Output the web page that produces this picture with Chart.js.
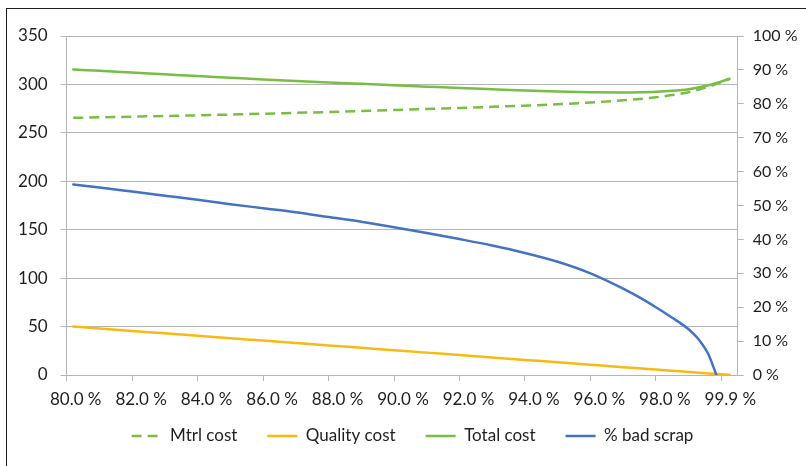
<!DOCTYPE html>
<html>
<head>
<meta charset="utf-8">
<script src="https://cdn.jsdelivr.net/npm/chart.js@4/dist/chart.umd.min.js"></script>
<style>
  html, body { margin: 0; padding: 0; background: #ffffff; overflow: hidden; }
  #wrap { position: relative; width: 806px; height: 466px; overflow: hidden; }
  #frame {
    position: absolute; left: 6px; top: 8px; width: 900px; height: 600px;
    border-left: 1.5px solid #1c1c1c; border-top: 1.5px solid #1c1c1c;
    pointer-events: none; z-index: 2;
  }
  canvas { position: absolute; left: 0; top: 0; }
</style>
</head>
<body>
<div id="wrap">
  <div id="frame"></div>
  <canvas id="c" width="830" height="466"></canvas>
</div>
<script>
// Yield positions along the horizontal axis (percent)
const yieldPos = [80.2, 81, 82, 83, 84, 85, 86, 87, 88, 89, 90, 91, 92, 93, 94, 95, 96, 97, 97.5, 98, 98.5, 99, 99.3, 99.6, 99.85, 100.25];

// Cost series (left axis)
const mtrlCost = [265.5, 266.0, 266.7, 267.4, 268.1, 268.9, 269.7, 270.6, 271.5, 272.5, 273.5, 274.6, 275.7, 276.9, 278.1, 279.5, 281.3, 283.6, 285.0, 286.8, 289.0, 292.0, 294.5, 297.5, 300.5, 305.5];
const qualityCost = [50.0, 48.0, 45.5, 43.0, 40.5, 38.0, 35.5, 33.0, 30.5, 28.1, 25.6, 23.1, 20.6, 18.1, 15.6, 13.1, 10.6, 8.1, 6.9, 5.6, 4.4, 3.1, 2.4, 1.6, 1.0, 0.3];
const totalCost = [315.5, 314.0, 312.2, 310.4, 308.6, 306.9, 305.2, 303.6, 302.0, 300.6, 299.1, 297.7, 296.3, 295.0, 293.7, 292.6, 291.9, 291.7, 291.9, 292.4, 293.4, 295.1, 296.9, 299.1, 301.5, 305.8];

// Share of bad scrap (right axis, percent)
const badScrap = [56.2, 55.3, 54.1, 52.9, 51.7, 50.4, 49.2, 48.0, 46.6, 45.2, 43.6, 41.9, 40.1, 38.2, 36.0, 33.4, 30.0, 25.5, 22.9, 20.0, 16.9, 13.5, 10.6, 6.2, 0.0, null];

// Horizontal axis ticks and their labels
const xTickValues = [80, 82, 84, 86, 88, 90, 92, 94, 96, 98, 100];
const xTickLabels = ['80.0 %', '82.0 %', '84.0 %', '86.0 %', '88.0 %', '90.0 %', '92.0 %', '94.0 %', '96.0 %', '98.0 %', '99.9 %'];

const seriesNames = ['Mtrl cost', 'Quality cost', 'Total cost', '% bad scrap'];

const pairs = (ys) => yieldPos.map((x, i) => ({ x: x, y: ys[i] }));

const GREEN = '#78BE45';
const GOLD = '#F9B915';
const BLUE = '#4472C4';
const GRID = '#b5b5b5';
const TEXT = '#1e1e1e';
const FONT = { family: 'Lato', size: 16 };
const FONT_L = { family: 'Lato', size: 17 };

const CANVAS_W = 830;
const PAD_L = 10, PAD_R = 15;
const PLOT_LEFT = 66.7, PLOT_RIGHT = 737.7;
const LEGEND_GAP = 30;      // horizontal space between legend entries
const LEGEND_LIFT = 13.5;   // keeps the legend row close under the axis labels

// Legend entries show each series' own stroke (dash, width, colour)
function legendLabels(chart) {
  const items = Chart.defaults.plugins.legend.labels.generateLabels(chart);
  items.forEach((it) => {
    const ds = chart.data.datasets[it.datasetIndex];
    it.strokeStyle = ds.borderColor;
    it.lineWidth = ds.borderWidth;
    it.lineDash = ds.borderDash || [];
    it.lineCap = 'butt';
  });
  return items;
}

// Raise the legend's top edge only, so its clip box still holds the descenders
const legendLift = {
  id: 'legendLift',
  afterLayout(chart) {
    if (chart.legend) {
      chart.legend.top -= LEGEND_LIFT;
    }
  }
};

new Chart(document.getElementById('c'), {
  type: 'line',
  data: {
    datasets: [
      { label: seriesNames[0], data: pairs(mtrlCost), yAxisID: 'y', borderColor: GREEN, backgroundColor: GREEN,
        borderWidth: 2.5, borderDash: [10, 6], borderCapStyle: 'butt', order: 4 },
      { label: seriesNames[1], data: pairs(qualityCost), yAxisID: 'y', borderColor: GOLD, backgroundColor: GOLD,
        borderWidth: 2.5, borderCapStyle: 'round', order: 3 },
      { label: seriesNames[2], data: pairs(totalCost), yAxisID: 'y', borderColor: GREEN, backgroundColor: GREEN,
        borderWidth: 2.5, borderCapStyle: 'round', order: 2 },
      { label: seriesNames[3], data: pairs(badScrap), yAxisID: 'y1', borderColor: BLUE, backgroundColor: BLUE,
        borderWidth: 2.5, borderCapStyle: 'round', order: 1 }
    ]
  },
  plugins: [legendLift],
  options: {
    responsive: false,
    animation: false,
    devicePixelRatio: 1,
    elements: {
      point: { radius: 0, hoverRadius: 0 },
      line: { cubicInterpolationMode: 'monotone', borderJoinStyle: 'round' }
    },
    layout: { padding: { left: PAD_L, right: PAD_R, top: 36, bottom: 12 } },
    plugins: {
      tooltip: { enabled: false },
      legend: {
        position: 'bottom',
        maxHeight: 43,
        labels: {
          generateLabels: legendLabels,
          sort: (a, b) => a.datasetIndex - b.datasetIndex,
          usePointStyle: true,
          pointStyle: 'line',
          pointStyleWidth: 30,
          padding: LEGEND_GAP,
          color: TEXT,
          font: FONT_L
        }
      }
    },
    scales: {
      x: {
        type: 'linear',
        position: 'bottom',
        min: 80,
        max: 100.5,
        afterBuildTicks: (s) => { s.ticks = xTickValues.map(v => ({ value: v })); },
        afterFit: (s) => { s.height = 36; },
        ticks: {
          autoSkip: false,
          maxRotation: 0,
          labelOffset: 9,
          padding: 8,
          color: TEXT,
          font: FONT_L,
          callback: (v, i) => xTickLabels[i]
        },
        grid: { drawOnChartArea: false, drawTicks: true, tickLength: 6, color: GRID, lineWidth: 1 },
        border: { display: true, color: GRID, width: 1 }
      },
      y: {
        position: 'left',
        min: 0,
        max: 350,
        afterFit: (s) => { s.width = PLOT_LEFT - PAD_L; },
        ticks: { stepSize: 50, padding: 13, color: TEXT, font: FONT_L },
        grid: { color: GRID, lineWidth: 1, tickLength: 6, drawTicks: true },
        border: { display: true, color: GRID, width: 1 }
      },
      y1: {
        position: 'right',
        min: 0,
        max: 100,
        afterFit: (s) => { s.width = CANVAS_W - PAD_R - PLOT_RIGHT; },
        ticks: { stepSize: 10, padding: 9, color: TEXT, font: FONT, callback: (v) => v + ' %' },
        grid: { drawOnChartArea: false, drawTicks: true, tickLength: 6, color: GRID, lineWidth: 1 },
        border: { display: true, color: GRID, width: 1 }
      }
    }
  }
});
</script>
</body>
</html>
